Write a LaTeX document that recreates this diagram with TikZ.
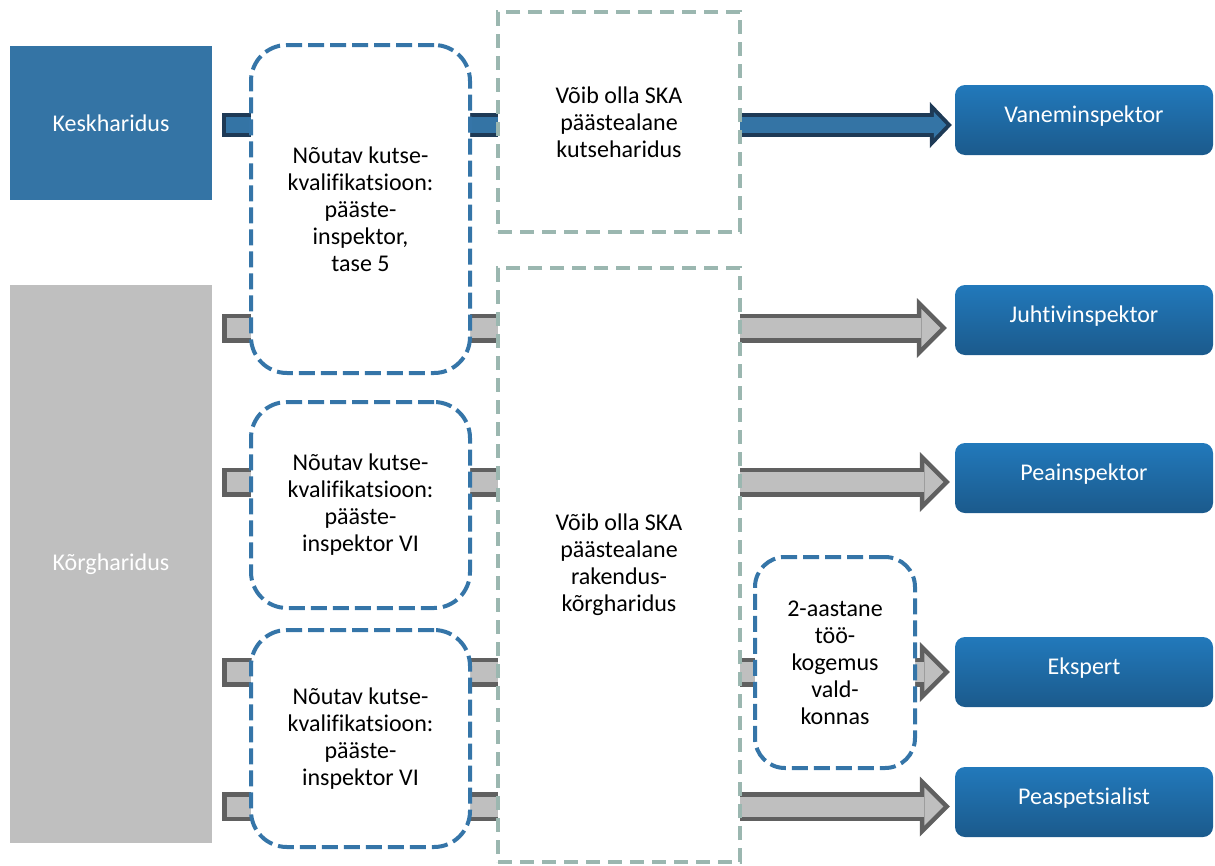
\documentclass[tikz,border=0pt]{standalone}
\usepackage{fontspec}
\setmainfont[Ligatures=CommonOff]{Carlito}
\usetikzlibrary{arrows.meta,calc,backgrounds}

\definecolor{keskblue}{HTML}{3474A5}
\definecolor{navyline}{HTML}{1E3A56}
\definecolor{korggray}{HTML}{BFBFBF}
\definecolor{gline}{HTML}{606060}
\definecolor{dashblue}{HTML}{3575A8}
\definecolor{dashgreen}{HTML}{9BB7B0}
\definecolor{boxtop}{HTML}{2279BB}
\definecolor{boxbot}{HTML}{1B5A8C}

\tikzset{
  edu/.style={rectangle, minimum width=202pt, text=white, inner sep=0pt},
  req/.style={rectangle, rounded corners=36pt, draw=dashblue, line width=4pt, dash pattern=on 16pt off 6pt, fill=white, minimum width=219pt, align=center},
  ska/.style={rectangle, draw=dashgreen, line width=4pt, dash pattern=on 14pt off 8pt, fill=white, minimum width=242pt, align=center},
  job/.style={rectangle, rounded corners=10pt, top color=boxtop, bottom color=boxbot, minimum width=258pt, minimum height=70pt, text=white, text height=20pt, text depth=16pt},
  bout/.style={draw=navyline, line width=24pt, -{Triangle[length=22pt,width=46pt,line width=0pt]}},
  bin/.style={draw=keskblue, line width=16pt, shorten <=4pt, shorten >=5.5pt, -{Triangle[length=12.5pt,width=26pt,line width=0pt]}},
  gout/.style={draw=gline, line width=29pt, -{Triangle[length=30pt,width=60pt,line width=0pt]}},
  gin/.style={draw=korggray, line width=20pt, shorten <=4.5pt, shorten >=6.4pt, -{Triangle[length=19pt,width=38pt,line width=0pt]}},
}

\begin{document}
\begin{tikzpicture}[x=1pt, y=-1pt, font=\fontsize{24}{27}\selectfont]
  \useasboundingbox (0,0) rectangle (1215,865);

  % haridus
  \node (kesk) [edu, fill=keskblue, minimum height=154pt] at (111,123) {Keskharidus};
  \node (korg) [edu, fill=korggray, minimum height=558pt] at (111,564) {Kõrgharidus};

  % kutsekvalifikatsioon
  \node (req1) [req, minimum height=328pt] at (360.5,209) {Nõutav kutse-\\kvalifikatsioon:\\pääste-\\inspektor,\\tase 5};
  \node (req2) [req, minimum height=206pt] at (360.5,505) {Nõutav kutse-\\kvalifikatsioon:\\pääste-\\inspektor VI};
  \node (req3) [req, minimum height=217pt] at (360.5,738.5) {Nõutav kutse-\\kvalifikatsioon:\\pääste-\\inspektor VI};

  % SKA
  \node (ska1) [ska, minimum height=220pt] at (619,122) {Võib olla SKA\\päästealane\\kutseharidus};
  \node (ska2) [ska, minimum height=594pt] at (619,565) {Võib olla SKA\\päästealane\\rakendus-\\kõrgharidus};
  \node (exp) [req, rounded corners=30pt, minimum width=160pt, minimum height=211pt] at (835,662.5) {2-aastane\\töö-\\kogemus\\vald-\\konnas};

  % ametikohad
  \node (vanem) [job] at (1084,120) {Vaneminspektor};
  \node (juht) [job] at (1084,320) {Juhtivinspektor};
  \node (pea) [job] at (1084,478) {Peainspektor};
  \node (ekspert) [job] at (1084,672) {Ekspert};
  \node (peasp) [job] at (1084,802) {Peaspetsialist};

  \begin{pgfonlayer}{background}
    \draw [bout] ($(kesk.east |- vanem.west)+(10,5)$) -- ($(vanem.west)+(-3,5)$);
    \draw [bin] ($(kesk.east |- vanem.west)+(10,5)$) -- ($(vanem.west)+(-3,5)$);
    \foreach \j/\dy/\dx in {juht/8/8, pea/4/5, ekspert/0/5, peasp/4.5/5} {
      \draw [gout] ($(korg.east |- \j.west)+(10,\dy)$) -- ($(\j.west)+(-\dx,\dy)$);
      \draw [gin] ($(korg.east |- \j.west)+(10,\dy)$) -- ($(\j.west)+(-\dx,\dy)$);
    }
  \end{pgfonlayer}
\end{tikzpicture}
\end{document}
